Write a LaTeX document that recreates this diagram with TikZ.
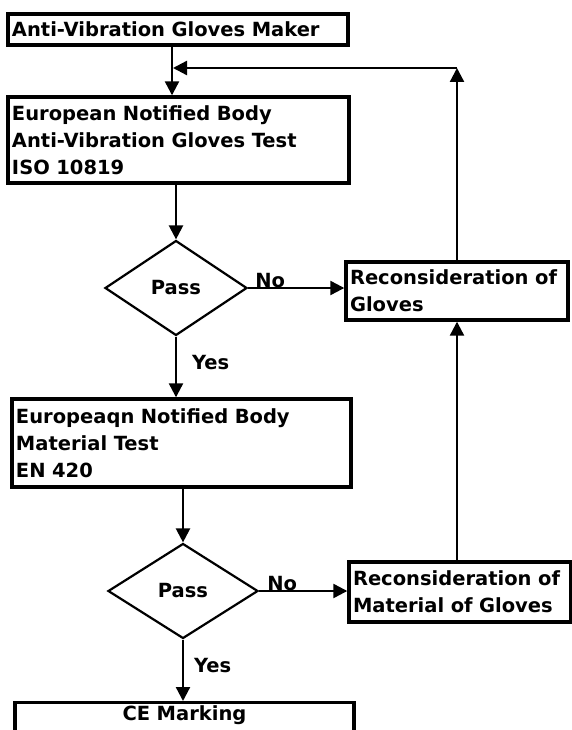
\documentclass[tikz,border=0pt]{standalone}
\usepackage{fontspec}
\setmainfont{DejaVu Sans}
\usetikzlibrary{arrows.meta,shapes.geometric}
\begin{document}
\begin{tikzpicture}[x=1pt,y=-1pt,
  every node/.style={font=\fontsize{19.5}{27}\selectfont\bfseries},
  box/.style={draw, line width=3.4pt, inner xsep=4pt, inner ysep=0pt, align=left},
  dia/.style={draw, diamond, line width=2.2pt, inner sep=0pt},
  arr/.style={line width=2.3pt, -{Triangle[length=14pt,width=14pt]}},
  lbl/.style={inner sep=0pt}]
\useasboundingbox (0,0) rectangle (572,730);
\clip (0,0) rectangle (572,730);
\node[box, text width=332pt, minimum height=31pt] (m) at (178,29.5) {Anti-Vibration Gloves Maker};
\node[box, text width=333pt, minimum height=86pt] (t1) at (178.5,140) {European Notified Body\\Anti-Vibration Gloves Test\\ISO 10819};
\node[dia, minimum width=142pt, minimum height=95pt] (d1) at (176,288) {Pass};
\node[box, text width=214pt, minimum height=58pt] (r1) at (457,291) {Reconsideration of\\Gloves};
\node[box, text width=331pt, minimum height=88pt] (t2) at (181.5,443) {Europeaqn Notified Body\\Material Test\\EN 420};
\node[dia, minimum width=150pt, minimum height=95pt] (d2) at (183,591) {Pass};
\node[box, text width=214pt, minimum height=60pt] (r2) at (460,592) {Reconsideration of\\Material of Gloves};
\node[box, align=center, text width=331pt, minimum height=34pt, text depth=14pt, anchor=north] (ce) at (184.5,701) {CE Marking};
\coordinate (j) at (172,68);
\coordinate (c1) at (457,68);
\draw[arr] (m.south -| j) -- (t1.north -| j);
\draw[arr] (r1.north -| c1) -- (c1);
\draw[arr] (c1) -- ([xshift=1pt]j);
\draw[arr] (t1.south -| d1.north) -- (d1.north);
\draw[arr] (d1.east) -- (d1.east -| r1.west);
\node[lbl, anchor=base west] (no1) at ([xshift=7pt,yshift=1pt]d1.east) {No};
\draw[arr] (d1.south) -- node[lbl, pos=0.42, right=15pt] (y1) {Yes} (d1.south |- t2.north);
\draw[arr] (t2.south -| d2.north) -- (d2.north);
\draw[arr] (d2.east) -- (d2.east -| r2.west);
\node[lbl, anchor=base west] (no2) at ([xshift=8pt,yshift=1pt]d2.east) {No};
\draw[arr] (d2.south) -- node[lbl, pos=0.42, right=10pt] (y2) {Yes} (d2.south |- ce.north);
\draw[arr] (r2.north -| c1) -- (r1.south -| c1);
\end{tikzpicture}
\end{document}
